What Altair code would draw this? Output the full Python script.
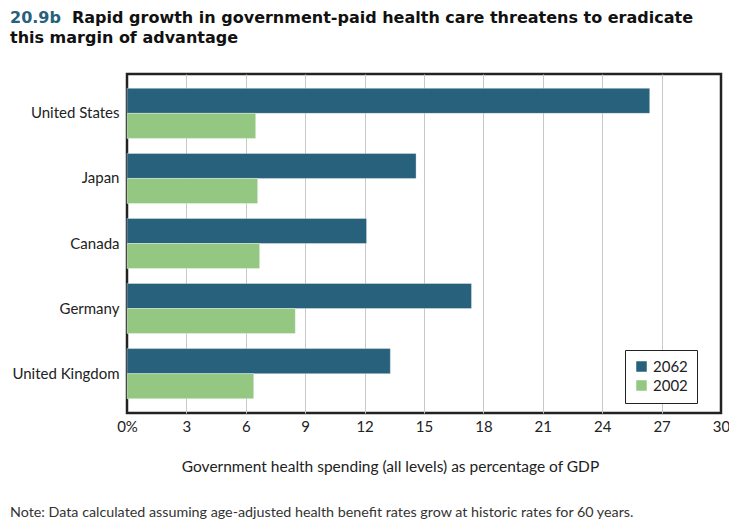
import altair as alt
import pandas as pd

FONT = "Lato"
TITLE_FONT = "DejaVu Sans"

countries = ["United States", "Japan", "Canada", "Germany", "United Kingdom"]
years = ["2062", "2002"]
values_2062 = [26.4, 14.6, 12.1, 17.4, 13.3]
values_2002 = [6.5, 6.6, 6.7, 8.5, 6.4]
x_ticks = [0, 3, 6, 9, 12, 15, 18, 21, 24, 27, 30]
colors = ["#27617B", "#93C782"]

title_num = "20.9b"
title_line1 = "Rapid growth in government-paid health care threatens to eradicate"
title_line2 = "this margin of advantage"
x_title = "Government health spending (all levels) as percentage of GDP"
note = "Note: Data calculated assuming age-adjusted health benefit rates grow at historic rates for 60 years."

rows = []
for c, a, b in zip(countries, values_2062, values_2002):
    rows.append({"country": c, "year": years[0], "value": a})
    rows.append({"country": c, "year": years[1], "value": b})
df = pd.DataFrame(rows)

W, H = 594, 339

bars = alt.Chart(df).mark_bar(stroke="white", strokeOpacity=0.35, strokeWidth=1).encode(
    y=alt.Y(
        "country:N",
        sort=countries,
        scale=alt.Scale(paddingInner=0.23, paddingOuter=0.22),
        axis=alt.Axis(title=None, ticks=False, domain=False, labelFontSize=15,
                      labelPadding=8, labelColor="#222", labelFont=FONT),
    ),
    yOffset=alt.YOffset("year:N", sort=years, scale=alt.Scale(paddingInner=0, paddingOuter=0)),
    x=alt.X(
        "value:Q",
        scale=alt.Scale(domain=[0, 30], nice=False),
        axis=alt.Axis(
            values=x_ticks,
            title=x_title,
            labelExpr="datum.value == 0 ? '0%' : datum.label",
            labelFlush=False,
            grid=True,
            gridColor="#c8c8c8",
            gridOpacity={"condition": {"test": "datum.value == 0 || datum.value == 30", "value": 0}, "value": 1},
            ticks=False,
            domain=False,
            labelFontSize=15,
            labelPadding=6,
            labelColor="#222",
            labelFont=FONT,
            titleFont=FONT,
            titleFontSize=15.5,
            titleFontWeight="normal",
            titleColor="#222",
            titleX=263,
            titleY=53,
            titleAlign="center",
            titleBaseline="middle",
        ),
    ),
    color=alt.Color(
        "year:N",
        scale=alt.Scale(domain=years, range=colors),
        legend=alt.Legend(
            title=None, orient="none", legendX=498, legendY=276,
            strokeColor="#222", fillColor="white", padding=9,
            symbolType="square", symbolSize=110, symbolStrokeWidth=0,
            labelFontSize=15, labelFont=FONT, labelColor="#222", rowPadding=3,
        ),
    ),
)

def text_layer(txt, x, y, size, weight="normal", color="#000", font=FONT):
    return alt.Chart(pd.DataFrame({"t": [txt]})).mark_text(
        align="left", baseline="alphabetic", font=font, fontSize=size,
        fontWeight=weight, color=color,
    ).encode(text="t:N", x=alt.value(x), y=alt.value(y))

t1 = text_layer(title_num, -117, -51, 16, "bold", "#27617B", TITLE_FONT)
t2 = text_layer(title_line1, -55, -51, 16, "bold", "#111", TITLE_FONT)
t3 = text_layer(title_line2, -117, -31, 16, "bold", "#111", TITLE_FONT)
t4 = text_layer(note, -117, 443, 14.3, "normal", "#333")

chart = alt.layer(bars, t1, t2, t3, t4).properties(
    width=W, height=H,
    autosize=alt.AutoSizeParams(type="none"),
    padding={"left": 119, "top": 66, "right": 8, "bottom": 109},
).configure_view(stroke="#222", strokeWidth=2.5)

chart.save("out.html", embed_options={"renderer": "svg", "actions": False})
